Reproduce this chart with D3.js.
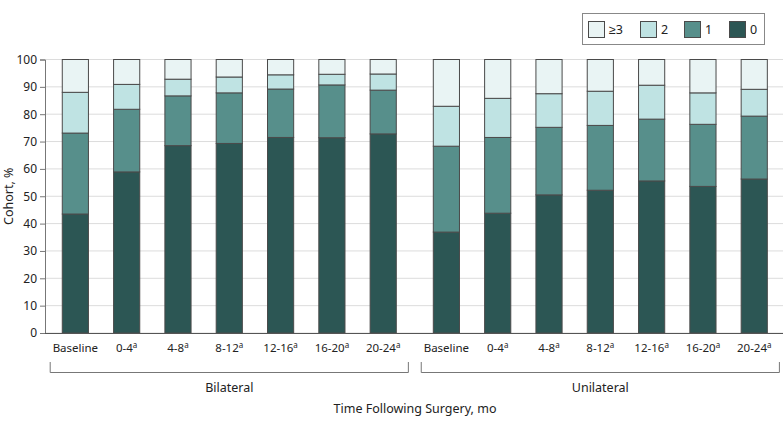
<!DOCTYPE html>
<html>
<head>
<meta charset="utf-8">
<script src="https://cdn.jsdelivr.net/npm/d3@7"></script>
<style>
    body { margin: 0; background: #fff; }
    text { font-family: "Noto Sans", sans-serif; fill: #222; }
</style>
</head>
<body>
<svg id="chart" width="783" height="425"></svg>
<script>
var groups = ['Bilateral', 'Unilateral'];
var periods = ['Baseline', '0-4', '4-8', '8-12', '12-16', '16-20', '20-24'];
var levels = ['0', '1', '2', '\u22653'];
var yTicks = [0, 10, 20, 30, 40, 50, 60, 70, 80, 90, 100];

// share of cohort (%) per number of events, per period
var bilateral0 = [43.5, 58.9, 68.5, 69.3, 71.5, 71.4, 72.8];
var bilateral1 = [29.6, 22.9, 18.2, 18.5, 17.7, 19.3, 16.0];
var bilateral2 = [14.9, 9.1, 6.1, 5.8, 5.2, 3.9, 5.9];
var bilateral3 = [12.0, 9.1, 7.2, 6.4, 5.6, 5.4, 5.3];

var unilateral0 = [36.9, 43.8, 50.5, 52.2, 55.6, 53.6, 56.3];
var unilateral1 = [31.4, 27.7, 24.7, 23.7, 22.6, 22.7, 23.0];
var unilateral2 = [14.6, 14.3, 12.3, 12.5, 12.4, 11.5, 9.8];
var unilateral3 = [17.1, 14.2, 12.5, 11.6, 9.4, 12.2, 10.9];

(function () {
    'use strict';
    var colors = {'0': '#2c5654', '1': '#578f8b', '2': '#bfe3e3', '\u22653': '#e9f4f4'};
    var series = {
        Bilateral: [bilateral0, bilateral1, bilateral2, bilateral3],
        Unilateral: [unilateral0, unilateral1, unilateral2, unilateral3]
    };

    var rows = [];
    groups.forEach(function (g) {
        periods.forEach(function (p, i) {
            var row = {group: g, period: p};
            levels.forEach(function (lv, j) {
                row[lv] = series[g][j][i];
            });
            rows.push(row);
        });
    });

    var svg = d3.select('#chart');
    var left = 45, bottom = 333, top = 59.5, right = 783;

    var y = d3.scaleLinear().domain([0, 100]).range([bottom, top]);
    var xGroup = d3.scaleBand().domain(groups).range([49.7, 779.9]).paddingInner(0.032);
    var xBar = d3.scaleBand().domain(periods).range([0, xGroup.bandwidth()]).paddingInner(0.49).paddingOuter(0.245);

    // gridlines
    svg.append('g').selectAll('line').data(yTicks).enter().append('line')
        .attr('x1', left).attr('x2', right)
        .attr('y1', function (d) { return y(d); })
        .attr('y2', function (d) { return y(d); })
        .attr('stroke', '#dcdcdc').attr('stroke-width', 1);

    // y axis
    var yAxis = svg.append('g').attr('transform', 'translate(' + left + ',0)')
        .call(d3.axisLeft(y).tickValues(yTicks).tickSize(5).tickPadding(3));
    yAxis.select('.domain').attr('stroke', '#777');
    yAxis.selectAll('.tick line').attr('stroke', '#777');
    yAxis.selectAll('.tick text').attr('font-size', 12).attr('font-family', '"Noto Sans", sans-serif').attr('fill', '#222');

    svg.append('text')
        .attr('transform', 'translate(13,' + ((top + bottom) / 2) + ') rotate(-90)')
        .attr('text-anchor', 'middle').attr('font-size', 12.5)
        .text('Cohort, %');

    // bars
    var stack = d3.stack().keys(levels);
    var stacked = stack(rows);
    var barGrp = svg.append('g');
    stacked.forEach(function (layer) {
        barGrp.append('g').selectAll('rect').data(layer).enter().append('rect')
            .attr('x', function (d) { return xGroup(d.data.group) + xBar(d.data.period); })
            .attr('width', xBar.bandwidth())
            .attr('y', function (d) { return y(d[1]); })
            .attr('height', function (d) { return y(d[0]) - y(d[1]); })
            .attr('fill', colors[layer.key])
            .attr('stroke', '#4a4a4a').attr('stroke-width', 1);
    });

    // x axis line
    svg.append('line').attr('x1', left).attr('x2', right)
        .attr('y1', bottom + 0.5).attr('y2', bottom + 0.5)
        .attr('stroke', '#555').attr('stroke-width', 1);

    // period labels
    rows.forEach(function (r) {
        var t = svg.append('text')
            .attr('x', xGroup(r.group) + xBar(r.period) + xBar.bandwidth() / 2)
            .attr('y', 352).attr('text-anchor', 'middle').attr('font-size', 11.5)
            .text(r.period);
        if (r.period !== 'Baseline') {
            t.append('tspan').attr('dy', -4).attr('font-size', 8).text('a');
        }
    });

    // group brackets
    groups.forEach(function (g) {
        var x0 = xGroup(g) + 0.5, x1 = xGroup(g) + xGroup.bandwidth() - 0.5;
        svg.append('path')
            .attr('d', 'M' + x0 + ',362V372.5H' + x1 + 'V362')
            .attr('fill', 'none').attr('stroke', '#777').attr('stroke-width', 1);
        svg.append('text').attr('x', (x0 + x1) / 2).attr('y', 392)
            .attr('text-anchor', 'middle').attr('font-size', 12.5).text(g);
    });

    svg.append('text').attr('x', 415).attr('y', 413)
        .attr('text-anchor', 'middle').attr('font-size', 12.5)
        .text('Time Following Surgery, mo');

    // legend
    var legend = svg.append('g');
    legend.append('rect').attr('x', 582.5).attr('y', 13.5).attr('width', 182).attr('height', 31)
        .attr('fill', '#fff').attr('stroke', '#888');
    var legendX = [588, 640, 684, 729];
    levels.slice().reverse().forEach(function (lv, i) {
        legend.append('rect').attr('x', legendX[i] + 0.5).attr('y', 21.5).attr('width', 16).attr('height', 16)
            .attr('fill', colors[lv]).attr('stroke', '#4a4a4a');
        legend.append('text').attr('x', legendX[i] + 21).attr('y', 34)
            .attr('font-size', 12.5).text(lv);
    });
})();
</script>
</body>
</html>
